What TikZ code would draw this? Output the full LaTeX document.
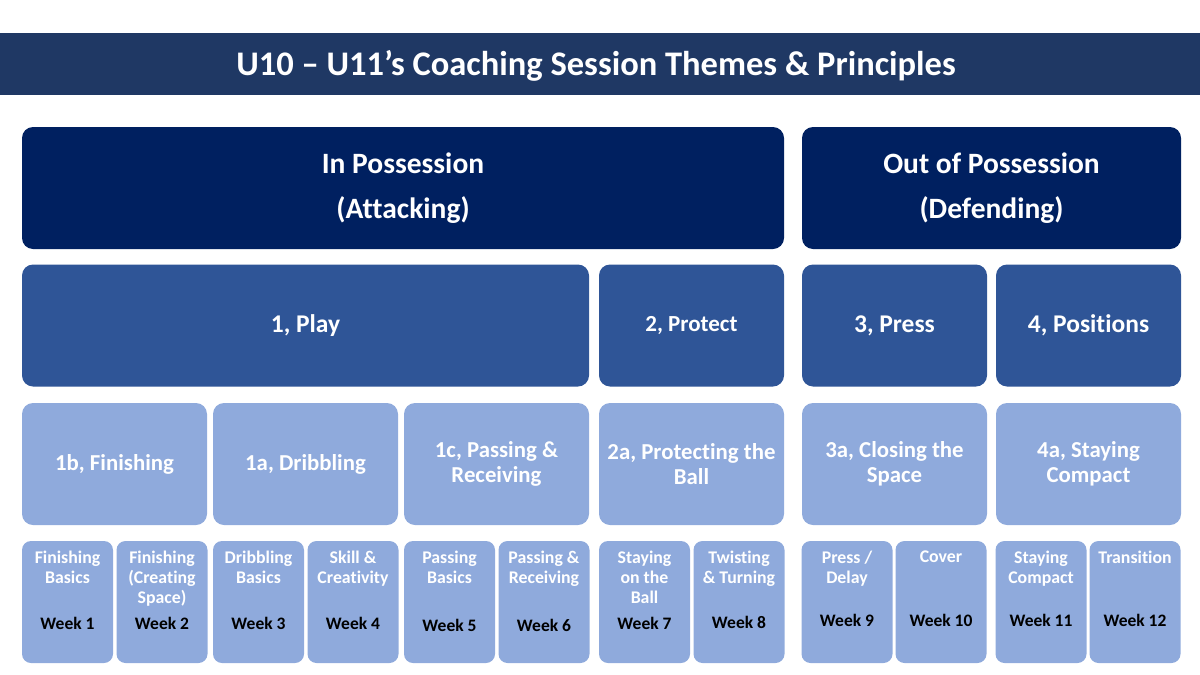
\documentclass[tikz,border=0pt]{standalone}
\usepackage{fontspec}
\setmainfont{Carlito}[Ligatures=NoCommon]
\usetikzlibrary{positioning}
\definecolor{titleblue}{HTML}{1F3864}
\definecolor{phaseblue}{HTML}{002060}
\definecolor{themeblue}{HTML}{2F5597}
\definecolor{topicblue}{HTML}{8FAADC}
\tikzstyle{every block} = [rectangle, inner sep=0pt, align=center, font=\bfseries, text=white]
\tikzstyle{phase} = [every block, rounded corners=11pt, fill=phaseblue, minimum height=122pt, font=\bfseries\fontsize{29.5}{45}\selectfont]
\tikzstyle{theme} = [every block, rounded corners=11pt, fill=themeblue, minimum height=122pt, font=\bfseries\fontsize{25.5}{30}\selectfont]
\tikzstyle{topic} = [every block, rounded corners=11pt, fill=topicblue, minimum width=185pt, minimum height=122pt, font=\bfseries\fontsize{22.8}{25}\selectfont]
\tikzstyle{week} = [every block, rounded corners=9pt, fill=topicblue, minimum width=91pt, minimum height=122pt]
\tikzstyle{weeklabel} = [align=center, inner sep=0pt, anchor=north, text=white, font=\bfseries\fontsize{17.8}{20}\selectfont]
\tikzstyle{weeknum} = [inner sep=0pt, text=black, font=\bfseries\fontsize{17.5}{20}\selectfont]

\begin{document}
\begin{tikzpicture} [x=1pt, y=-1pt]

\useasboundingbox (0,0) rectangle (1200,675);

% Title

\node[every block, fill=titleblue, minimum width=1200pt, minimum height=62pt] (title) at (600,64) {};
\node[text=white, inner sep=0pt, font=\bfseries\fontsize{34.5}{40}\selectfont] (titletext) at (596,66) {U10 – U11’s Coaching Session Themes \& Principles};

% Phases

\node[phase, minimum width=762pt] (inposs) at (403,188) {In Possession\\(Attacking)};

\node[phase, minimum width=379pt] (outposs) at (991.5,188) {Out of Possession\\(Defending)};

% Themes

\node[theme, minimum width=567pt] (play) at (305.5,325.5) {1, Play};

\node[theme, minimum width=185pt, font=\bfseries\fontsize{23}{28}\selectfont] (protect) at (691.5,325.5) {2, Protect};

\node[theme, minimum width=185pt] (press) at (894.5,325.5) {3, Press};

\node[theme, minimum width=185pt] (positions) at (1088.5,325.5) {4, Positions};

% Topics

\node[topic] (finishing) at (114.5,464) {1b, Finishing};

\node[topic] (dribbling) at (305.5,464) {1a, Dribbling};

\node[topic] (passing) at (496.5,464) {1c, Passing \&\\Receiving};

\node[topic] (protecting) at (691.5,464) {2a, Protecting the\\Ball};

\node[topic] (closing) at (894.5,464) {3a, Closing the\\Space};

\node[topic] (compact) at (1088.5,464) {4a, Staying\\Compact};

% Weeks

\node[week] (wk1) at (67.5,602) {};
\node[weeklabel] at (67.5,551) {Finishing\\Basics};
\node[weeknum] at (67.5,623) {Week 1};

\node[week] (wk2) at (162,602) {};
\node[weeklabel] at (162,551) {Finishing\\(Creating\\Space)};
\node[weeknum] at (162,623) {Week 2};

\node[week] (wk3) at (258.5,602) {};
\node[weeklabel] at (258.5,551) {Dribbling\\Basics};
\node[weeknum] at (258.5,623) {Week 3};

\node[week] (wk4) at (353,602) {};
\node[weeklabel] at (353,551) {Skill \&\\Creativity};
\node[weeknum] at (353,623) {Week 4};

\node[week] (wk5) at (449.5,602) {};
\node[weeklabel] at (449.5,551) {Passing\\Basics};
\node[weeknum] at (449.5,625) {Week 5};

\node[week] (wk6) at (544,602) {};
\node[weeklabel] at (544,551) {Passing \&\\Receiving};
\node[weeknum] at (544,625) {Week 6};

\node[week] (wk7) at (644.5,602) {};
\node[weeklabel] at (644.5,551) {Staying\\on the\\Ball};
\node[weeknum] at (644.5,623) {Week 7};

\node[week] (wk8) at (739,602) {};
\node[weeklabel] at (739,551) {Twisting\\\& Turning};
\node[weeknum] at (739,622) {Week 8};

% Out of possession weeks

\node[week] (wk9) at (847,602) {};
\node[weeklabel] at (847,551) {Press /\\Delay};
\node[weeknum] at (847,620) {Week 9};

\node[week] (wk10) at (941,602) {};
\node[weeklabel] at (941,551) {Cover};
\node[weeknum] at (941,620) {Week 10};

\node[week] (wk11) at (1041,602) {};
\node[weeklabel] at (1041,551) {Staying\\Compact};
\node[weeknum] at (1041,620) {Week 11};

\node[week] (wk12) at (1135,602) {};
\node[weeklabel] at (1135,551) {Transition};
\node[weeknum] at (1135,620) {Week 12};

\end{tikzpicture}
\end{document}
